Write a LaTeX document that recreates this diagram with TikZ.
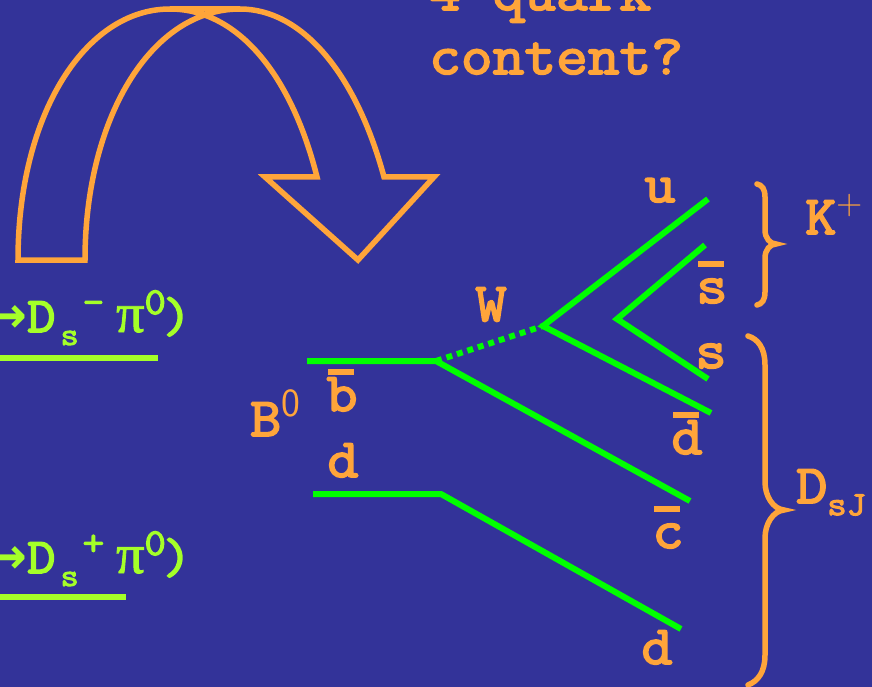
\documentclass[tikz,border=0pt]{standalone}
\usepackage{fontspec}
\setmonofont{Latin Modern Mono}[FakeBold=3.2,FakeStretch=1.1]
\newfontfamily\symfont{Liberation Serif}[FakeBold=1.6]
\newfontfamily\arrowfont{DejaVu Sans Bold}
\usetikzlibrary{positioning}
\definecolor{slideBg}{HTML}{333399}
\definecolor{labelOrange}{HTML}{FFA53A}
\definecolor{quarkGreen}{HTML}{00FF00}
\definecolor{modeGreen}{HTML}{A5FF28}
\newcommand{\qbar}[1]{\rlap{\hspace{0.03em}\raisebox{0.66em}{\rule{0.48em}{0.11em}}}#1}
\newcommand{\lilsub}[1]{\hspace{5pt}\raisebox{-13pt}{\fontsize{32}{32}\selectfont #1}}
\newcommand{\lilsup}[1]{\raisebox{18pt}{\fontsize{38}{38}\selectfont #1}}
\newcommand{\dsmode}[1]{\llap{{\arrowfont →}}D\lilsub{s}\hspace{4pt}\lilsup{#1}\hspace{12pt}{\symfont\fontsize{56}{56}\selectfont π}\lilsup{0}\hspace{-3pt})}
\begin{document}
\begin{tikzpicture}[x=1pt,y=-1pt,lbl/.style={font=\fontsize{55}{55}\selectfont\ttfamily, color=labelOrange, inner sep=0pt, anchor=base},mode/.style={font=\fontsize{50}{50}\selectfont\ttfamily, color=modeGreen, inner sep=0pt, anchor=base west},quark/.style={draw=quarkGreen, line width=6pt},modeline/.style={draw=modeGreen, line width=6pt},outline/.style={draw=labelOrange, line width=5.5pt, line cap=round}]
\useasboundingbox (0,0) rectangle (872,687);
\clip (0,0) rectangle (872,687);
\fill[slideBg] (0,0) rectangle (872,687);
% big curved arrow
\draw[draw=labelOrange, line width=5.5pt, miter limit=10] (85,260) .. controls (85,120) and (150,9) .. (240,9) .. controls (300,9) and (355,70) .. (384,177) -- (434,177) -- (358,260) -- (265,177) -- (317,177) .. controls (290,70) and (235,9) .. (170,9) -- (240,9) -- (170,9) .. controls (85,9) and (18,115) .. (18,260) -- cycle;
\node[lbl, font=\fontsize{56}{56}\selectfont\ttfamily, anchor=base west] (qfour) at (429,10) {4 quark};
\node[lbl, font=\fontsize{56}{56}\selectfont\ttfamily, anchor=base west] (qcontent) at (429,74) {content?};
% decay lines
\coordinate (bstart) at (307,361); \coordinate (bkink) at (436,361); \coordinate (cend) at (690,501);
\coordinate (dstart) at (313,494); \coordinate (dkink) at (441,494); \coordinate (dend) at (681,629);
\coordinate (wvert) at (543,326); \coordinate (uend) at (708,199); \coordinate (dbarend) at (711,413);
\coordinate (svert) at (617,319); \coordinate (sbarend) at (705,245); \coordinate (send) at (708,379);
\draw[quark] (bstart)--(bkink)--(cend);
\draw[quark] (dstart)--(dkink)--(dend);
\draw[quark, dash pattern=on 6pt off 5pt] (bkink)--(wvert);
\draw[quark, line join=miter] (uend)--(wvert)--(dbarend);
\draw[quark, line join=miter] (sbarend)--(svert)--(send);
% quark labels
\node[lbl] (lu) at (660,202) {u};
\node[lbl] (lsbar) at (712,303) {\qbar{s}};
\node[lbl] (ls) at (711,368) {s};
\node[lbl] (ldbar) at (687,454) {\qbar{d}};
\node[lbl] (lcbar) at (668,548) {\qbar{c}};
\node[lbl] (ld) at (657,664) {d};
\node[lbl] (lw) at (491,321) {W};
\node[lbl] (lbbar) at (342,411) {\qbar{b}};
\node[lbl] (ldin) at (343,477) {d};
\node[lbl] (lbz) at (275,436) {B\raisebox{0.36em}{\fontsize{40}{40}\selectfont\sffamily 0}};
\node[lbl] (lk) at (834,234) {K\raisebox{0.36em}{\fontsize{36}{36}\selectfont\sffamily +}};
\node[lbl, anchor=base west] (ldsj) at (796,503) {D\raisebox{-0.22em}{\fontsize{34}{34}\selectfont sJ}};
% braces
\draw[outline] (757,184) .. controls (762,185) and (765,189) .. (765,197) -- (765,230) .. controls (765,238) and (770,244) .. (776,244) .. controls (770,244) and (765,250) .. (765,258) -- (765,292) .. controls (765,300) and (762,304) .. (757,305);
\draw[outline] (748,336) .. controls (758,339) and (765,348) .. (765,365) -- (765,482) .. controls (765,496) and (773,509) .. (784,510) .. controls (773,511) and (765,524) .. (765,538) -- (765,655) .. controls (765,672) and (758,681) .. (748,685);
% modes
\node[mode] (minus) at (27,332) {\dsmode{-}};
\draw[modeline] (-5,358) -- (158,358);
\node[mode] (plus) at (27,573) {\dsmode{+}};
\draw[modeline] (-5,597) -- (126,597);
\end{tikzpicture}
\end{document}
